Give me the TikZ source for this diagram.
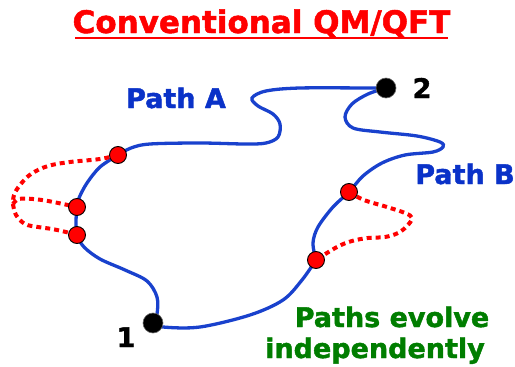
\documentclass[tikz,border=0pt]{standalone}
\usepackage{fontspec}
\setmainfont{DejaVu Sans}[BoldFeatures={FakeBold=1.6}]
\usetikzlibrary{backgrounds}
\definecolor{titlered}{RGB}{255,0,0}
\definecolor{pathblue}{RGB}{25,65,205}
\definecolor{textblue}{RGB}{10,50,200}
\definecolor{textgreen}{RGB}{0,125,0}
\definecolor{dotred}{RGB}{255,0,0}
\tikzset{
  endpt/.style={circle, fill=black, draw=black!60, line width=0.6pt, minimum size=20pt, inner sep=0pt},
  evt/.style={circle, fill=dotred, draw=black, line width=0.9pt, minimum size=17pt, inner sep=0pt},
  bluepath/.style={pathblue, line width=3.3pt, line cap=round},
  virt/.style={dotred, line width=4pt, dash pattern=on 5pt off 4pt},
  lbl/.style={font=\bfseries\fontsize{27}{30}\selectfont, inner sep=0pt, anchor=base},
}
\begin{document}
\begin{tikzpicture}[x=1pt,y=-1pt]
\useasboundingbox (0,0) rectangle (515,367);
% title
\node[lbl, titlered, font=\bfseries\fontsize{31}{34}\selectfont] (title) at (261.5,33) {Conventional QM/QFT};
\draw[titlered, line width=2pt] (75,37.5) -- (448,37.5);
% end points
\node[endpt] (n1) at (153,323) {};
\node[endpt] (n2) at (386,88) {};
\node[lbl] (l1) at (126,347) {1};
\node[lbl] (l2) at (422,98) {2};
% events
\node[evt] (a1) at (118,155) {};
\node[evt] (a2) at (77,207) {};
\node[evt] (a3) at (77,235) {};
\node[evt] (b1) at (349,192) {};
\node[evt] (b2) at (316,260) {};
\coordinate (la) at (13,204);
% labels
\node[lbl, textblue] (pa) at (176,108) {Path A};
\node[lbl, textblue] (pb) at (465,184) {Path B};
\node[lbl, textgreen] (pe1) at (392,327) {Paths evolve};
\node[lbl, textgreen] (pe2) at (375,358) {independently};
\begin{pgfonlayer}{background}
% Path A
\draw[bluepath] plot[smooth, tension=0.55] coordinates {(n2.center) (370,88) (300,88) (266,91) (252,98) (258,106) (273,114) (280,124) (278,137) (266,143) (245,144) (200,143) (150,144) (131,148) (a1.center)};
\draw[bluepath] plot[smooth, tension=0.55] coordinates {(a1.center) (100,167) (87,183) (79,198) (a2.center) (76,222) (a3.center) (84,247) (100,259) (125,270) (147,281) (157,297) (157,314) (n1.center)};
% Path B
\draw[bluepath] plot[smooth, tension=0.55] coordinates {(n1.center) (163,327) (200,327) (250,315) (283,300) (302,280) (b2.center)};
\draw[bluepath] plot[smooth, tension=0.55] coordinates {(b2.center) (313,243) (318,227) (333,207) (b1.center) (363,176) (382,163) (405,155) (433,152) (443,147) (440,142) (417,136) (380,132) (353,128) (345,117) (352,104) (368,94) (n2.center)};
% virtual detours
\draw[virt] plot[smooth, tension=0.6] coordinates {(a1.center) (100,159) (70,162) (48,166) (31,174) (20,185) (14,195) (la)};
\draw[virt] plot[smooth, tension=0.6] coordinates {(la) (19,199) (33,199) (48,201) (63,204) (a2.center)};
\draw[virt] plot[smooth, tension=0.6] coordinates {(la) (16,215) (25,224) (38,227) (52,229) (66,232) (a3.center)};
\draw[virt] plot[smooth, tension=0.6] coordinates {(b1.center) (364,200) (387,207) (405,213) (412,218) (407,226) (398,233) (385,237) (368,238) (352,241) (337,247) (b2.center)};
\end{pgfonlayer}
\end{tikzpicture}
\end{document}
